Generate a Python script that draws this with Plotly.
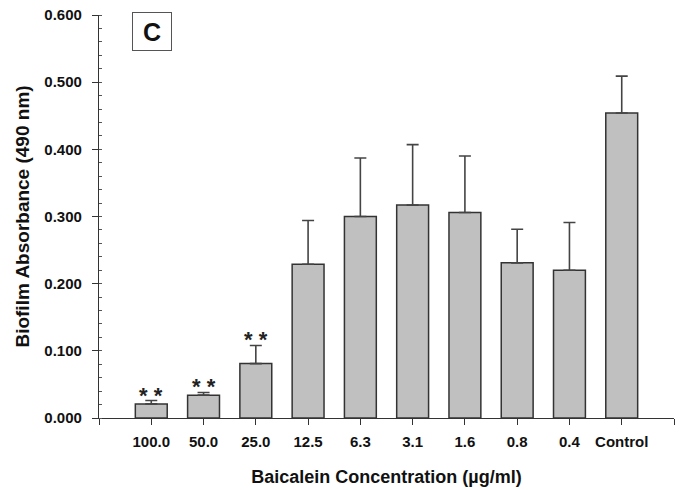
import plotly.graph_objects as go

categories = ["100.0", "50.0", "25.0", "12.5", "6.3", "3.1", "1.6", "0.8", "0.4", "Control"]
means = [0.021, 0.034, 0.081, 0.229, 0.300, 0.317, 0.306, 0.231, 0.220, 0.454]
err_upper = [0.005, 0.004, 0.027, 0.065, 0.087, 0.090, 0.084, 0.050, 0.071, 0.055]
signif = ["**", "**", "**", "", "", "", "", "", "", ""]
y_ticks = [0.0, 0.1, 0.2, 0.3, 0.4, 0.5, 0.6]

positions = list(range(len(categories)))
FONT = "Liberation Sans, Arial, sans-serif"
AX = "#333333"

fig = go.Figure()
fig.add_trace(go.Bar(
    x=positions, y=means, width=0.61,
    marker=dict(color="#c0c0c0", line=dict(color="#333333", width=1.5)),
    error_y=dict(type="data", array=err_upper, arrayminus=[0] * len(means),
                 symmetric=False, color="#444444", thickness=1.6, width=6),
    showlegend=False,
))

for p, m, e, s in zip(positions, means, err_upper, signif):
    if s:
        fig.add_annotation(x=p, y=m + e, text="<b>" + " ".join(s) + "</b>",
                           showarrow=False, yanchor="bottom", yshift=-9,
                           font=dict(family=FONT, size=22, color="#222222"))

fig.add_annotation(xref="paper", yref="paper", x=0.092, y=0.959,
                   text="<b>C</b>", showarrow=False, xanchor="center", yanchor="middle",
                   width=36, height=35, bordercolor="#555555", borderwidth=1,
                   bgcolor="white", font=dict(family=FONT, size=25, color="#111111"))

tickvals_x = [positions[0] - 1] + positions + [positions[-1] + 1]
ticktext_x = [""] + [f"<b>{c}</b>" for c in categories] + [""]

fig.update_layout(
    width=681, height=490,
    margin=dict(l=99, r=7, t=15, b=72),
    plot_bgcolor="white", paper_bgcolor="white",
    font=dict(family=FONT, color="#111111"),
    xaxis=dict(
        range=[positions[0] - 1, positions[-1] + 1],
        tickmode="array", tickvals=tickvals_x, ticktext=ticktext_x,
        ticks="outside", ticklen=6, tickwidth=1.2, tickcolor=AX,
        showline=True, linecolor=AX, linewidth=1.2, showgrid=False, zeroline=False,
        tickfont=dict(family=FONT, size=15, color="#111111"),
        ticklabelstandoff=4, ticklabeloverflow="allow",
        title=dict(text="<b>Baicalein Concentration (µg/ml)</b>",
                   font=dict(family=FONT, size=18, color="#111111"), standoff=21),
        automargin=False,
    ),
    yaxis=dict(
        range=[0, 0.6], tickmode="array", tickvals=y_ticks,
        ticktext=[f"<b>{v:.3f}</b>" for v in y_ticks],
        ticks="outside", ticklen=6, tickwidth=1.2, tickcolor=AX,
        minor=dict(dtick=0.02, tick0=0, ticks="inside", ticklen=3, tickwidth=1, tickcolor="#555555"),
        showline=True, linecolor=AX, linewidth=1.2, showgrid=False, zeroline=False,
        tickfont=dict(family=FONT, size=15, color="#111111"),
        ticklabelstandoff=7, ticklabeloverflow="allow",
        title=dict(text="<b>Biofilm Absorbance (490 nm)</b>",
                   font=dict(family=FONT, size=19, color="#111111"), standoff=9),
        automargin=False,
    ),
)

fig.write_html("out.html", config={"displayModeBar": False},
               post_script="document.body.style.margin='0';")
